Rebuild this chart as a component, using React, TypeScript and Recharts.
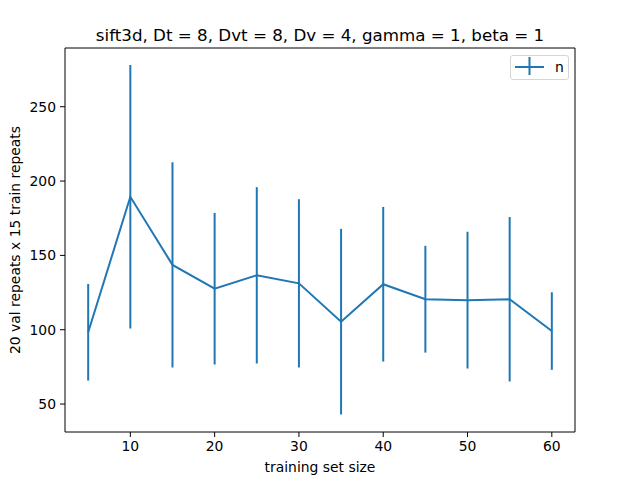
import { LineChart, Line, XAxis, YAxis, ErrorBar, Legend, ReferenceLine } from "recharts";

// training set sizes and the mean / spread over the repeats
const sizes = [5, 10, 15, 20, 25, 30, 35, 40, 45, 50, 55, 60];
const means = [98.3, 189.4, 143.6, 127.6, 136.6, 131.2, 105.4, 130.6, 120.5, 119.9, 120.5, 99.1];
const errs = [32.5, 88.6, 69, 51, 59.3, 56.6, 62.4, 52, 35.9, 46, 55.3, 26.1];

const xTicks = [10, 20, 30, 40, 50, 60];
const yTicks = [50, 100, 150, 200, 250];
const xDomain = [2.25, 62.75];
const yDomain = [31.2, 289.5];

const data = sizes.map((s, i) => ({ size: s, n: means[i], err: errs[i] }));

const BLUE = "#1f77b4";
const FONT = "DejaVu Sans";
const tickStyle = { fontSize: 13.9, fill: "#000", fontFamily: FONT };

function LegendBox() {
  return (
    <svg width={60} height={26} style={{ display: "block" }}>
      <rect x={0.5} y={0.5} width={58} height={24} rx={2.5} fill="#fff" stroke="#d6d6d6" />
      <line x1={5} y1={12} x2={34} y2={12} stroke={BLUE} strokeWidth={2} />
      <line x1={19.5} y1={2} x2={19.5} y2={20} stroke={BLUE} strokeWidth={2} />
      <text x={45} y={12} dominantBaseline="central" fontSize={13.9} fontFamily={FONT} fill="#000">
        n
      </text>
    </svg>
  );
}

export default function App() {
  return (
    <div style={{ position: "absolute", left: 0, top: 0, width: 640, height: 480, background: "#fff" }}>
      <LineChart
        width={640}
        height={480}
        data={data}
        margin={{ top: 48, right: 65, bottom: 0, left: 0 }}
        accessibilityLayer={false}
      >
        <XAxis
          dataKey="size"
          type="number"
          domain={xDomain}
          ticks={xTicks}
          height={48}
          tick={tickStyle}
          tickSize={5}
          tickMargin={4}
          stroke="#000"
          allowDataOverflow
        />
        <YAxis
          type="number"
          domain={yDomain}
          ticks={yTicks}
          width={65}
          tick={tickStyle}
          tickSize={5}
          tickMargin={4}
          stroke="#000"
          allowDataOverflow
        />
        {/* top and right spines */}
        <ReferenceLine y={yDomain[1]} stroke="#000" ifOverflow="visible" />
        <ReferenceLine x={xDomain[1]} stroke="#000" ifOverflow="visible" />
        <Legend
          layout="horizontal"
          verticalAlign="middle"
          align="center"
          wrapperStyle={{ position: "absolute", left: 510, top: 55, width: 60, height: 26 }}
          content={() => <LegendBox />}
        />
        <Line
          dataKey="n"
          type="linear"
          stroke={BLUE}
          strokeWidth={2}
          dot={false}
          activeDot={false}
          isAnimationActive={false}
        >
          <ErrorBar dataKey="err" direction="y" width={0} stroke={BLUE} strokeWidth={2} isAnimationActive={false} />
        </Line>
        <text x={320} y={41} textAnchor="middle" fontSize={16.7} fontFamily={FONT} fill="#000">
          sift3d, Dt = 8, Dvt = 8, Dv = 4, gamma = 1, beta = 1
        </text>
        <text x={320} y={472} textAnchor="middle" fontSize={13.9} fontFamily={FONT} fill="#000">
          training set size
        </text>
        <text
          x={15}
          y={240}
          textAnchor="middle"
          dominantBaseline="central"
          transform="rotate(-90 15 240)"
          fontSize={13.9}
          fontFamily={FONT}
          fill="#000"
        >
          20 val repeats x 15 train repeats
        </text>
      </LineChart>
    </div>
  );
}
